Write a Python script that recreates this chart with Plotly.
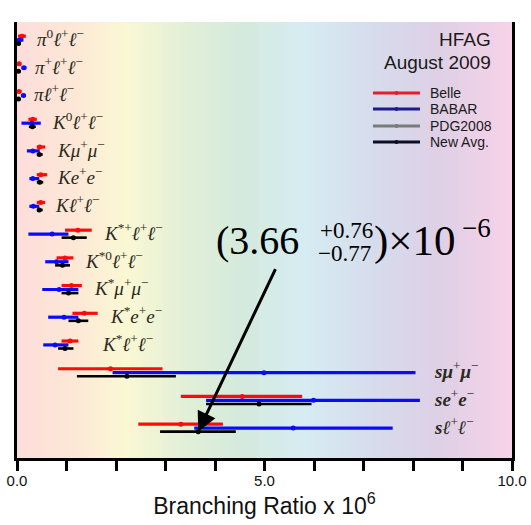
import numpy as np
import plotly.graph_objects as go

# Decay modes, top to bottom
modes = [
    "<i>π</i><sup>0</sup><i>ℓ</i><sup>+</sup><i>ℓ</i><sup>−</sup>",
    "<i>π</i><sup>+</sup><i>ℓ</i><sup>+</sup><i>ℓ</i><sup>−</sup>",
    "<i>πℓ</i><sup>+</sup><i>ℓ</i><sup>−</sup>",
    "<i>K</i><sup>0</sup><i>ℓ</i><sup>+</sup><i>ℓ</i><sup>−</sup>",
    "<i>Kμ</i><sup>+</sup><i>μ</i><sup>−</sup>",
    "<i>Ke</i><sup>+</sup><i>e</i><sup>−</sup>",
    "<i>Kℓ</i><sup>+</sup><i>ℓ</i><sup>−</sup>",
    "<i>K</i><sup>*+</sup><i>ℓ</i><sup>+</sup><i>ℓ</i><sup>−</sup>",
    "<i>K</i><sup>*0</sup><i>ℓ</i><sup>+</sup><i>ℓ</i><sup>−</sup>",
    "<i>K</i><sup>*</sup><i>μ</i><sup>+</sup><i>μ</i><sup>−</sup>",
    "<i>K</i><sup>*</sup><i>e</i><sup>+</sup><i>e</i><sup>−</sup>",
    "<i>K</i><sup>*</sup><i>ℓ</i><sup>+</sup><i>ℓ</i><sup>−</sup>",
    "<b><i>sμ</i></b><sup>+</sup><b><i>μ</i></b><sup>−</sup>",
    "<b><i>se</i></b><sup>+</sup><b><i>e</i></b><sup>−</sup>",
    "<b><i>sℓ</i></b><sup>+</sup><b><i>ℓ</i></b><sup>−</sup>",
]
# x position (in units of 1e-6) where each mode label starts
label_x = [0.36, 0.32, 0.30, 0.67, 0.77, 0.77, 0.73,
           1.72, 1.33, 1.52, 1.84, 1.68, 8.38, 8.38, 8.38]

# Belle: central value, lower error, upper error (x 1e-6)
belle_val = [0.10, 0.04, 0.04, 0.32, 0.46, 0.48, 0.48,
             1.23, 0.97, 1.10, 1.36, 1.07, 1.89, 4.55, 3.31]
belle_lo = [0.08, 0.04, 0.04, 0.09, 0.06, 0.08, 0.08,
            0.26, 0.17, 0.20, 0.24, 0.17, 1.06, 1.24, 0.86]
belle_hi = [0.08, 0.05, 0.05, 0.08, 0.11, 0.13, 0.09,
            0.28, 0.17, 0.21, 0.27, 0.17, 1.05, 1.21, 0.85]

# BABAR
babar_val = [0.05, 0.14, 0.13, 0.30, 0.32, 0.32, 0.33,
             0.71, 0.80, 0.85, 0.95, 0.77, 4.99, 5.99, 5.58]
babar_lo = [0.05, 0.05, 0.05, 0.21, 0.12, 0.07, 0.08,
            0.48, 0.23, 0.34, 0.32, 0.24, 3.06, 2.17, 2.00]
babar_hi = [0.08, 0.05, 0.05, 0.18, 0.14, 0.13, 0.12,
            0.33, 0.24, 0.39, 0.29, 0.27, 3.06, 2.15, 2.01]

# New average
avg_val = [0.03, 0.03, 0.03, 0.31, 0.45, 0.46, 0.45,
           1.14, 0.92, 1.04, 1.24, 0.97, 2.22, 4.89, 3.66]
avg_lo = [0.03, 0.03, 0.03, 0.07, 0.05, 0.06, 0.05,
          0.24, 0.15, 0.14, 0.20, 0.14, 1.01, 1.07, 0.77]
avg_hi = [0.05, 0.04, 0.04, 0.07, 0.07, 0.07, 0.07,
          0.27, 0.15, 0.20, 0.20, 0.17, 0.99, 1.06, 0.76]

x_ticks = [0, 1, 2, 3, 4, 5, 6, 7, 8, 9, 10]
x_tick_text = ["0.0", "", "", "", "", "5.0", "", "", "", "", "10.0"]

rows = np.arange(len(modes))
Y_TOP, Y_BOT = -0.65, 15.08

fig = go.Figure()

# pastel rainbow backdrop
edges = np.linspace(0, 10, 251)
centers = (edges[:-1] + edges[1:]) / 2
fig.add_trace(go.Heatmap(
    x=edges, y=[Y_TOP, Y_BOT], z=[centers],
    zmin=0, zmax=10, showscale=False, hoverinfo="skip",
    colorscale=[
        [0.00, "rgb(253,221,218)"],
        [0.12, "rgb(253,232,214)"],
        [0.22, "rgb(250,248,212)"],
        [0.33, "rgb(228,240,215)"],
        [0.45, "rgb(212,234,220)"],
        [0.58, "rgb(214,236,242)"],
        [0.72, "rgb(214,220,236)"],
        [0.85, "rgb(222,208,230)"],
        [1.00, "rgb(248,210,232)"],
    ],
))


def add_series(vals, lo, hi, offset, color, width):
    fig.add_trace(go.Scatter(
        x=vals, y=rows + offset, mode="markers",
        marker=dict(color=color, size=5),
        error_x=dict(type="data", symmetric=False, array=hi, arrayminus=lo,
                     color=color, thickness=width, width=0),
        hoverinfo="skip", showlegend=False, cliponaxis=False,
    ))


add_series(belle_val, belle_lo, belle_hi, -0.14, "#ff0a0a", 3.2)
add_series(babar_val, babar_lo, babar_hi, 0.0, "#0a0aff", 3.2)
add_series(avg_val, avg_lo, avg_hi, 0.13, "#000000", 2.6)

annotations = []
for i, (lab, lx) in enumerate(zip(modes, label_x)):
    annotations.append(dict(
        x=lx, y=i - 0.08, xref="x", yref="y", text=lab, showarrow=False,
        xanchor="left", yanchor="middle",
        font=dict(family="Liberation Serif", size=19, color="#2a2a20"),
    ))

# headline result for s l+ l- with arrow to the average point
i_sll = len(modes) - 1
annotations.append(dict(
    x=avg_val[i_sll], y=i_sll + 0.13, xref="x", yref="y", text="",
    showarrow=True, arrowhead=2, arrowsize=1.3, arrowwidth=3,
    arrowcolor="black", ax=78, ay=-164,
))


def px_x(px):
    return (px - 17) / 495.0


def px_y(py):
    return (458 - py) / 436.0


big_font = dict(family="Liberation Serif", size=40, color="black")
small_font = dict(family="Liberation Serif", size=23, color="black")
annotations += [
    dict(x=px_x(301), y=px_y(241), xref="paper", yref="paper",
         text=f"({avg_val[i_sll]:.2f}", showarrow=False,
         xanchor="right", yanchor="middle", font=big_font),
    dict(x=px_x(318), y=px_y(230), xref="paper", yref="paper",
         text=f"+{avg_hi[i_sll]:.2f}", showarrow=False,
         xanchor="left", yanchor="middle", font=small_font),
    dict(x=px_x(316), y=px_y(254), xref="paper", yref="paper",
         text=f"−{avg_lo[i_sll]:.2f}", showarrow=False,
         xanchor="left", yanchor="middle", font=small_font),
    dict(x=px_x(372), y=px_y(241), xref="paper", yref="paper",
         text=")×10", showarrow=False,
         xanchor="left", yanchor="middle",
         font=dict(family="Liberation Serif", size=43, color="black")),
    dict(x=px_x(460), y=px_y(228), xref="paper", yref="paper",
         text="−6", showarrow=False,
         xanchor="left", yanchor="middle",
         font=dict(family="Liberation Serif", size=27, color="black")),
]

# HFAG stamp
sans = "Liberation Sans"
annotations += [
    dict(x=px_x(493), y=px_y(39), xref="paper", yref="paper", text="HFAG",
         showarrow=False, xanchor="right", yanchor="middle",
         font=dict(family=sans, size=19, color="#1a1a1a")),
    dict(x=px_x(493), y=px_y(62), xref="paper", yref="paper",
         text="August 2009", showarrow=False, xanchor="right",
         yanchor="middle", font=dict(family=sans, size=19, color="#1a1a1a")),
]

# legend key
legend_items = [("Belle", "#e0202c"), ("BABAR", "#1c1c8c"),
                ("PDG2008", "#7a7a7a"), ("New Avg.", "#0c0c24")]
legend_y = [93, 109, 126, 142]
shapes = []
for (name, col), ly in zip(legend_items, legend_y):
    shapes.append(dict(type="line", xref="paper", yref="paper",
                       x0=px_x(373), x1=px_x(420), y0=px_y(ly), y1=px_y(ly),
                       line=dict(color=col, width=3)))
    shapes.append(dict(type="circle", xref="paper", yref="paper",
                       x0=px_x(394.5), x1=px_x(398.5),
                       y0=px_y(ly + 2), y1=px_y(ly - 2),
                       fillcolor=col, line=dict(width=0)))
    annotations.append(dict(x=px_x(428), y=px_y(ly), xref="paper",
                            yref="paper", text=name, showarrow=False,
                            xanchor="left", yanchor="middle",
                            font=dict(family=sans, size=14, color="#1a1a1a")))

fig.update_layout(
    width=531, height=525,
    margin=dict(l=17, r=19, t=22, b=67),
    paper_bgcolor="white", plot_bgcolor="white",
    showlegend=False,
    annotations=annotations, shapes=shapes,
    xaxis=dict(
        range=[0, 10], tickvals=x_ticks, ticktext=x_tick_text,
        ticks="outside", ticklen=10, tickwidth=3, tickcolor="black",
        showline=True, linewidth=3, linecolor="black", mirror=False,
        showgrid=False, zeroline=False, automargin=False,
        ticklabelstandoff=-3,
        tickfont=dict(family=sans, size=15, color="#111"),
        title=dict(text="Branching Ratio x 10<sup>6</sup>", standoff=2,
                   font=dict(family=sans, size=23, color="#111")),
    ),
    yaxis=dict(
        range=[Y_BOT, Y_TOP], showticklabels=False, ticks="",
        showline=True, linewidth=3, linecolor="black", mirror=True,
        showgrid=False, zeroline=False, automargin=False,
    ),
)

fig.write_html("out.html")
